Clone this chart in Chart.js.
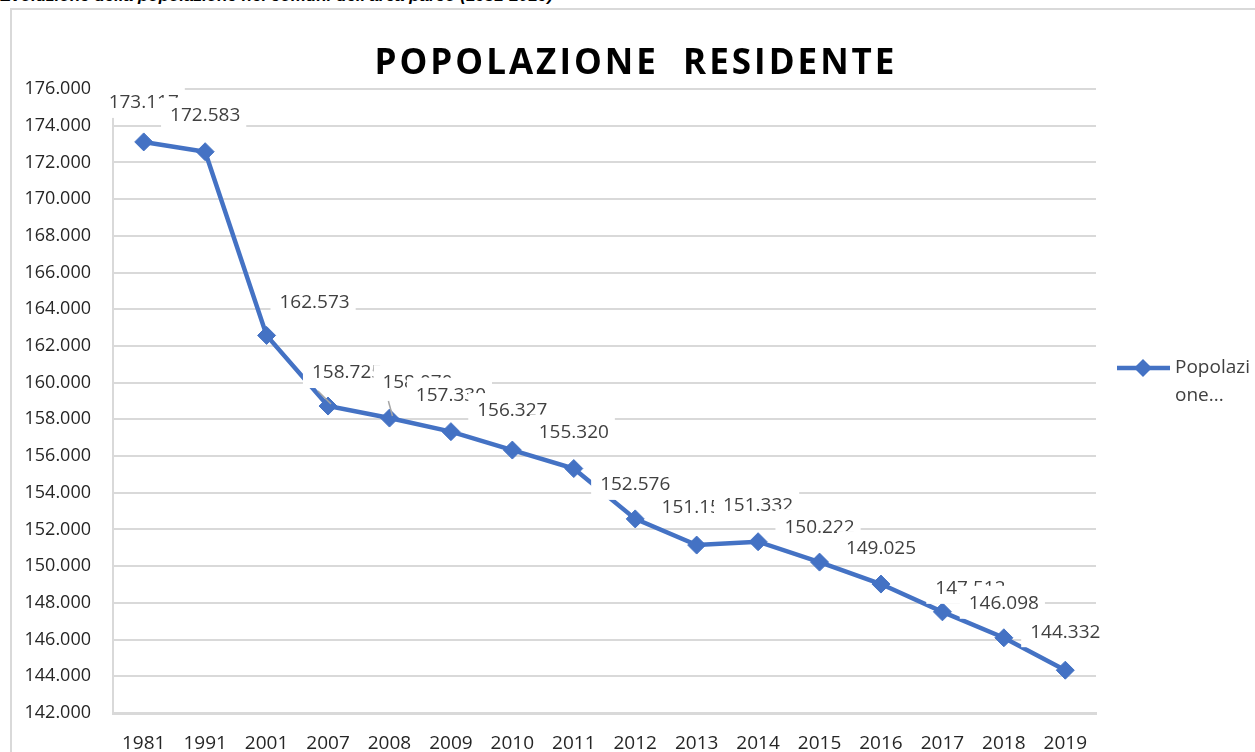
<!DOCTYPE html>
<html>
<head>
<meta charset="utf-8">
<script src="https://cdn.jsdelivr.net/npm/chart.js@4"></script>
<style>
    body { margin: 0; background: #fff; }
    #page { position: relative; width: 1255px; height: 752px; overflow: hidden; background: #fff; }
    #caption {
        position: absolute; left: 0; top: -14px; white-space: nowrap;
        font: italic bold 17px "Liberation Sans", Arial, sans-serif; color: #000;
    }
    #box {
        position: absolute; left: 10px; top: 8px; width: 1300px; height: 800px;
        border-left: 2px solid #d9d9d9; border-top: 2px solid #d9d9d9;
    }
    #grafico { position: absolute; left: 0; top: 0; }
</style>
</head>
<body>
<div id="page">
    <div id="caption">Evoluzione della popolazione nei comuni dell'area parco (1981-2019)</div>
    <div id="box"></div>
    <canvas id="grafico" width="1255" height="752"></canvas>
</div>
<script>
// dati
const anni = ['1981', '1991', '2001', '2007', '2008', '2009', '2010', '2011', '2012', '2013', '2014', '2015', '2016', '2017', '2018', '2019'];
const popolazione = [173117, 172583, 162573, 158725, 158070, 157330, 156327, 155320, 152576, 151150, 151332, 150222, 149025, 147512, 146098, 144332];
const yMin = 142000;
const yMax = 176000;
const yStep = 2000;

// spostamento delle etichette (solo stile)
const spostaX = [0, 0, 48, 19, 28, 0, 0, 0, 0, 0, 0, 0, 0, 28, 0, 0];
const spostaY = [-40, -37, -34, -34, -36, -37, -40, -37, -35, -38, -37, -36, -36, -24, -35, -39];
const conLinea = [false, false, false, true, true, false, false, false, false, false, false, false, false, false, false, false];

const blu = '#4472C4';
const font = '"Open Sans", "DejaVu Sans", sans-serif';

function formatta(n) {
    return String(Math.round(n)).replace(/\B(?=(\d{3})+(?!\d))/g, '.');
}

const titoloPlugin = {
    id: 'titolo',
    afterDraw(chart) {
        const ctx = chart.ctx;
        ctx.save();
        ctx.font = 'bold 35px ' + font;
        ctx.fillStyle = '#000';
        ctx.textAlign = 'center';
        ctx.textBaseline = 'alphabetic';
        ctx.letterSpacing = '3px';
        ctx.fillText('POPOLAZIONE  RESIDENTE', 636, 74);
        ctx.restore();
    }
};

const etichettePlugin = {
    id: 'etichette',
    afterDatasetsDraw(chart) {
        const ctx = chart.ctx;
        const meta = chart.getDatasetMeta(0);
        ctx.save();
        ctx.font = '19px ' + font;
        for (let i = 0; i < meta.data.length; i++) {
            const p = meta.data[i];
            const testo = formatta(popolazione[i]);
            const w = ctx.measureText(testo).width;
            const cx = p.x + spostaX[i];
            const cy = p.y + spostaY[i];
            const left = cx - w / 2;

            if (conLinea[i]) {
                ctx.strokeStyle = '#a6a6a6';
                ctx.lineWidth = 1.5;
                ctx.beginPath();
                ctx.moveTo(p.x + 3, p.y - 2);
                ctx.lineTo(left + 6, cy + 19);
                ctx.stroke();
            }

            ctx.fillStyle = '#fff';
            ctx.fillRect(left - 9, cy - 17, w + 15, 33);
            ctx.fillStyle = '#404040';
            ctx.textAlign = 'left';
            ctx.textBaseline = 'middle';
            ctx.fillText(testo, left, cy + 1);
        }
        ctx.restore();
    }
};

const legendaPlugin = {
    id: 'legenda',
    afterDraw(chart) {
        const ctx = chart.ctx;
        const y = 368;
        ctx.save();
        ctx.strokeStyle = blu;
        ctx.lineWidth = 4.5;
        ctx.beginPath();
        ctx.moveTo(1117, y);
        ctx.lineTo(1170, y);
        ctx.stroke();
        ctx.fillStyle = blu;
        ctx.beginPath();
        ctx.moveTo(1143, y - 9);
        ctx.lineTo(1152, y);
        ctx.lineTo(1143, y + 9);
        ctx.lineTo(1134, y);
        ctx.closePath();
        ctx.fill();
        ctx.font = '19px ' + font;
        ctx.fillStyle = '#404040';
        ctx.textBaseline = 'middle';
        ctx.fillText('Popolazi', 1175, y);
        ctx.fillText('one...', 1175, y + 28);
        ctx.restore();
    }
};

const grafico = document.getElementById('grafico').getContext('2d');
new Chart(grafico, {
    type: 'line',
    data: {
        labels: anni,
        datasets: [
            {
                label: 'Popolazione residente',
                data: popolazione,
                borderColor: blu,
                backgroundColor: blu,
                borderWidth: 4.5,
                pointStyle: 'rectRot',
                pointRadius: 9,
                pointBorderWidth: 1,
                tension: 0,
                fill: false
            }
        ]
    },
    options: {
        responsive: false,
        animation: false,
        layout: {
            padding: { top: 89, right: 159, bottom: 0, left: 0 }
        },
        plugins: {
            legend: { display: false },
            title: { display: false },
            tooltip: { enabled: false }
        },
        scales: {
            y: {
                min: yMin,
                max: yMax,
                afterFit(scale) { scale.width = 113; },
                ticks: {
                    stepSize: yStep,
                    padding: 22,
                    color: '#262626',
                    font: { family: font, size: 18 },
                    callback: (v) => formatta(v)
                },
                grid: {
                    color: '#d9d9d9',
                    lineWidth: 2,
                    drawTicks: false
                },
                border: { display: true, color: '#d9d9d9', width: 2 }
            },
            x: {
                offset: true,
                afterFit(scale) { scale.height = 39; },
                ticks: {
                    padding: 19,
                    color: '#262626',
                    font: { family: font, size: 19 },
                    autoSkip: false,
                    maxRotation: 0
                },
                grid: {
                    display: false,
                    drawTicks: false
                },
                border: { display: true, color: '#d9d9d9', width: 3 }
            }
        }
    },
    plugins: [titoloPlugin, etichettePlugin, legendaPlugin]
});
</script>
</body>
</html>
